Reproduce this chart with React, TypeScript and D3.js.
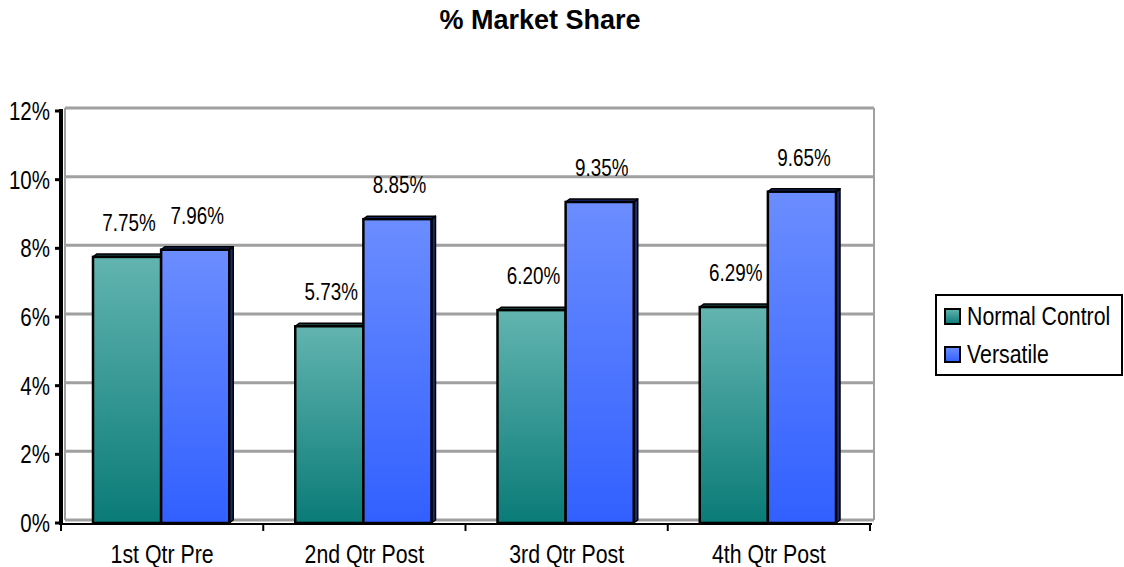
import React from "react";
import * as d3 from "d3";

const categories = ["1st Qtr Pre", "2nd Qtr Post", "3rd Qtr Post", "4th Qtr Post"];
const seriesNames = ["Normal Control", "Versatile"];
const normalControl = [7.75, 5.73, 6.2, 6.29];
const versatile = [7.96, 8.85, 9.35, 9.65];
const yTicks = [0, 2, 4, 6, 8, 10, 12];

const W = 1124;
const H = 567;
const left = 61;
const right = 870;
const top = 111;
const bottom = 523;
const dx = 4; // depth offset of the back wall
const dy = 3;
const FONT = "'Liberation Sans', Arial, sans-serif";
const SQUEEZE = 0.82;

const gradients = [
	{ id: "gTeal", top: "#62b4b0", bottom: "#0a7b77", side: "#1c3f3e" },
	{ id: "gBlue", top: "#6b8dff", bottom: "#3160ff", side: "#1b2b6e" },
];

// narrow text, like the original's condensed rendering
const NText: React.FC<{
	x: number;
	y: number;
	size: number;
	anchor?: "start" | "middle" | "end";
	children: React.ReactNode;
}> = ({ x, y, size, anchor = "start", children }) => (
	<text
		transform={`translate(${x},${y}) scale(${SQUEEZE},1)`}
		fontSize={size}
		fontFamily={FONT}
		textAnchor={anchor}
		fill="#000"
	>
		{children}
	</text>
);

export default function App() {
	const y = d3.scaleLinear().domain([0, 12]).range([bottom, top]);
	const x0 = d3.scaleBand<string>().domain(categories).range([left, right]);
	const x1 = d3
		.scaleBand<string>()
		.domain(seriesNames)
		.range([32, x0.bandwidth() - 34]);

	const values = [normalControl, versatile];

	return (
		<svg width={W} height={H} style={{ display: "block", position: "absolute", left: 0, top: 0 }}>
			<defs>
				{gradients.map((g) => (
					<linearGradient key={g.id} id={g.id} x1="0" y1="0" x2="0" y2="1">
						<stop offset="0%" stopColor={g.top} />
						<stop offset="100%" stopColor={g.bottom} />
					</linearGradient>
				))}
			</defs>
			<rect width={W} height={H} fill="#fff" />

			<text
				x={540}
				y={29}
				textAnchor="middle"
				fontFamily={FONT}
				fontWeight="bold"
				fontSize={27}
			>
				% Market Share
			</text>

			{/* back wall grid */}
			{yTicks.map((t) => (
				<line
					key={t}
					x1={left + dx}
					x2={right + dx}
					y1={y(t) - dy}
					y2={y(t) - dy}
					stroke="#a0a0a0"
					strokeWidth={3}
				/>
			))}
			<line x1={left + dx} x2={left + dx} y1={y(12) - dy} y2={y(0) - dy} stroke="#a0a0a0" strokeWidth={2} />
			<line x1={right + dx} x2={right + dx} y1={y(12) - dy} y2={y(0) - dy} stroke="#a0a0a0" strokeWidth={2} />

			{/* bars */}
			{categories.map((c, ci) =>
				seriesNames.map((s, si) => {
					const v = values[si][ci];
					const bx = (x0(c) || 0) + (x1(s) || 0);
					const bw = x1.bandwidth();
					const by = y(v);
					const g = gradients[si];
					const topFace = `M${bx},${by}L${bx + dx},${by - dy}L${bx + bw + dx},${by - dy}L${bx + bw},${by}Z`;
					const sideFace = `M${bx + bw},${by}L${bx + bw + dx},${by - dy}L${bx + bw + dx},${bottom - dy}L${bx + bw},${bottom}Z`;
					return (
						<g key={c + s}>
							<path d={sideFace} fill={g.side} stroke="#000" strokeWidth={1.5} strokeLinejoin="round" />
							<path d={topFace} fill={g.side} stroke="#000" strokeWidth={1.5} strokeLinejoin="round" />
							<rect
								x={bx}
								y={by}
								width={bw}
								height={bottom - by}
								fill={`url(#${g.id})`}
								stroke="#000"
								strokeWidth={2.5}
							/>
						</g>
					);
				})
			)}

			{/* data labels */}
			{categories.map((c, ci) =>
				seriesNames.map((s, si) => {
					const v = values[si][ci];
					const cx = (x0(c) || 0) + (x1(s) || 0) + x1.bandwidth() / 2 + 2;
					return (
						<NText key={"l" + c + s} x={cx} y={y(v) - 26} size={23} anchor="middle">
							{v.toFixed(2)}%
						</NText>
					);
				})
			)}

			{/* axes */}
			<line x1={left} x2={left} y1={top - 2} y2={bottom + 2} stroke="#000" strokeWidth={4} />
			<line x1={left} x2={right + 2} y1={bottom + 1} y2={bottom + 1} stroke="#000" strokeWidth={2} />
			{yTicks.map((t) => (
				<g key={"yt" + t}>
					<line x1={left - 6} x2={left} y1={y(t)} y2={y(t)} stroke="#000" strokeWidth={3} />
					<NText x={50} y={y(t) + 9} size={25} anchor="end">
						{t}%
					</NText>
				</g>
			))}
			{[...categories.map((c) => x0(c) || 0), right].map((tx, i) => (
				<line key={"xt" + i} x1={tx} x2={tx} y1={bottom} y2={bottom + 8} stroke="#000" strokeWidth={2} />
			))}
			{categories.map((c) => (
				<NText key={"cl" + c} x={(x0(c) || 0) + x0.bandwidth() / 2} y={563} size={26} anchor="middle">
					{c}
				</NText>
			))}

			{/* legend */}
			<rect x={936} y={295} width={186} height={80} fill="#fff" stroke="#000" strokeWidth={2} />
			{seriesNames.map((s, i) => (
				<g key={"lg" + s}>
					<rect
						x={945}
						y={309 + i * 38}
						width={15}
						height={15}
						fill={`url(#${gradients[i].id})`}
						stroke="#000"
						strokeWidth={2}
					/>
					<NText x={967} y={325 + i * 38} size={26}>
						{s}
					</NText>
				</g>
			))}
		</svg>
	);
}
